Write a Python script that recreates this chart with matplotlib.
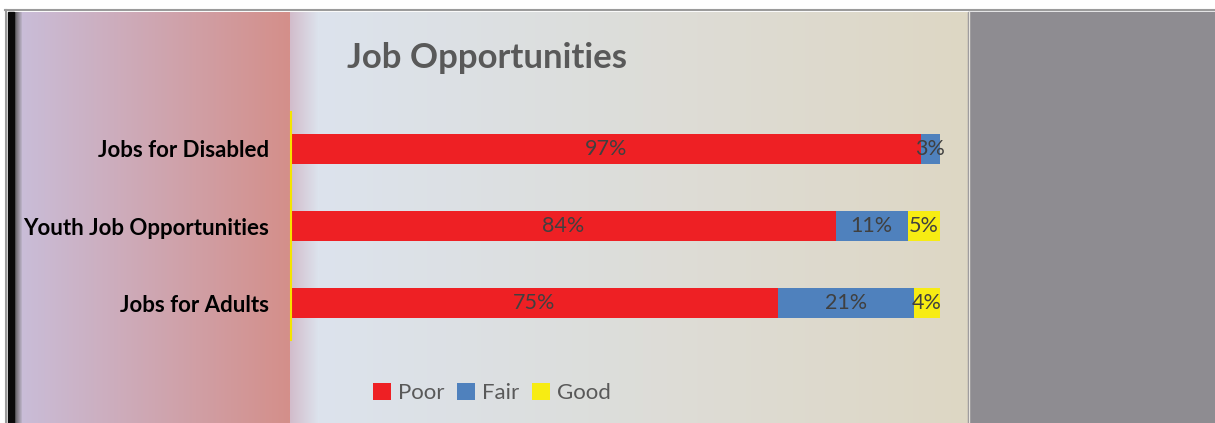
import numpy as np
import matplotlib.pyplot as plt
from matplotlib.colors import LinearSegmentedColormap

# data
categories = ['Jobs for Disabled', 'Youth Job Opportunities', 'Jobs for Adults']
poor = [97, 84, 75]
fair = [3, 11, 21]
good = [0, 5, 4]
series_names = ['Poor', 'Fair', 'Good']
colors = ['#ee2024', '#4f81bd', '#f7ec13']

W, H = 1215, 423
fig = plt.figure(figsize=(W / 100, H / 100), dpi=100)

# background drawn in pixel coordinates
bg = fig.add_axes([0, 0, 1, 1])
bg.set_xlim(0, W)
bg.set_ylim(H, 0)
bg.axis('off')

def hgrad(ax, x0, x1, y0, y1, c0, c1):
    cm = LinearSegmentedColormap.from_list('g', [c0, c1])
    ax.imshow(np.linspace(0, 1, 256).reshape(1, -1), cmap=cm, aspect='auto',
              extent=(x0, x1, y1, y0), interpolation='bilinear', zorder=1)

bg.add_patch(plt.Rectangle((0, 0), W, H, color='white', zorder=0))
hgrad(bg, 20, 290, 12, H, '#c9bdd8', '#d48f8a')
hgrad(bg, 290, 318, 12, H, '#d2bccb', '#dce2ec')
hgrad(bg, 318, 968, 12, H, '#dce3ed', '#ded7c4')
bg.add_patch(plt.Rectangle((968, 12), W - 968, H - 12, color='#8e8c91', zorder=2))
bg.plot([969, 969], [12, H], color='#e6e3dc', lw=1, zorder=3)
# frame lines
bg.plot([5, W], [10, 10], color='#9b9b9b', lw=1.5, zorder=3)
bg.plot([6, 6], [10, H], color='#9b9b9b', lw=1.5, zorder=3)
bg.add_patch(plt.Rectangle((8, 12), 6, H - 12, color='#0a0a0a', zorder=3))
hgrad(bg, 14, 22, 12, H, '#505050', '#c0b6cc')
bg.set_xlim(0, W)
bg.set_ylim(H, 0)

fig.text(487 / W, 1 - 58 / H, 'Job Opportunities', ha='center', va='center',
         fontsize=25, fontweight='bold', color='#595959', family='Lato')

# chart
ax = fig.add_axes([291 / W, 1 - 340 / H, 649 / W, 228 / H])
ax.patch.set_alpha(0)
y = np.arange(len(categories))
h = 0.39
left = np.zeros(len(categories))
for vals, name, col in zip([poor, fair, good], series_names, colors):
    vals = np.array(vals)
    bars = ax.barh(y, vals, left=left, height=h, color=col, label=name)
    for b, v in zip(bars, vals):
        if v > 0:
            ax.text(b.get_x() + b.get_width() / 2, b.get_y() + h / 2, f'{v}%',
                    ha='center', va='center', fontsize=15.5, color='#404040',
                    family='Lato')
    left += vals

ax.set_xlim(0, 100)
ax.set_ylim(2.48, -0.48)
ax.set_yticks(y)
ax.set_yticklabels(categories, fontsize=16, fontweight='bold', family='Lato')
ax.tick_params(axis='y', length=0, pad=16)
ax.set_xticks([])
for s in ['top', 'right', 'bottom']:
    ax.spines[s].set_visible(False)
ax.spines['left'].set_color('#f5e400')
ax.spines['left'].set_linewidth(1.5)

leg = fig.legend(loc='center', bbox_to_anchor=(492 / W, 1 - 393 / H), ncol=3,
                 frameon=False, handlelength=0.8, handleheight=0.8,
                 handletextpad=0.3, columnspacing=0.6,
                 prop={'family': 'Lato', 'size': 16})
for t in leg.get_texts():
    t.set_color('#595959')

fig.savefig('out.png', dpi=100)
